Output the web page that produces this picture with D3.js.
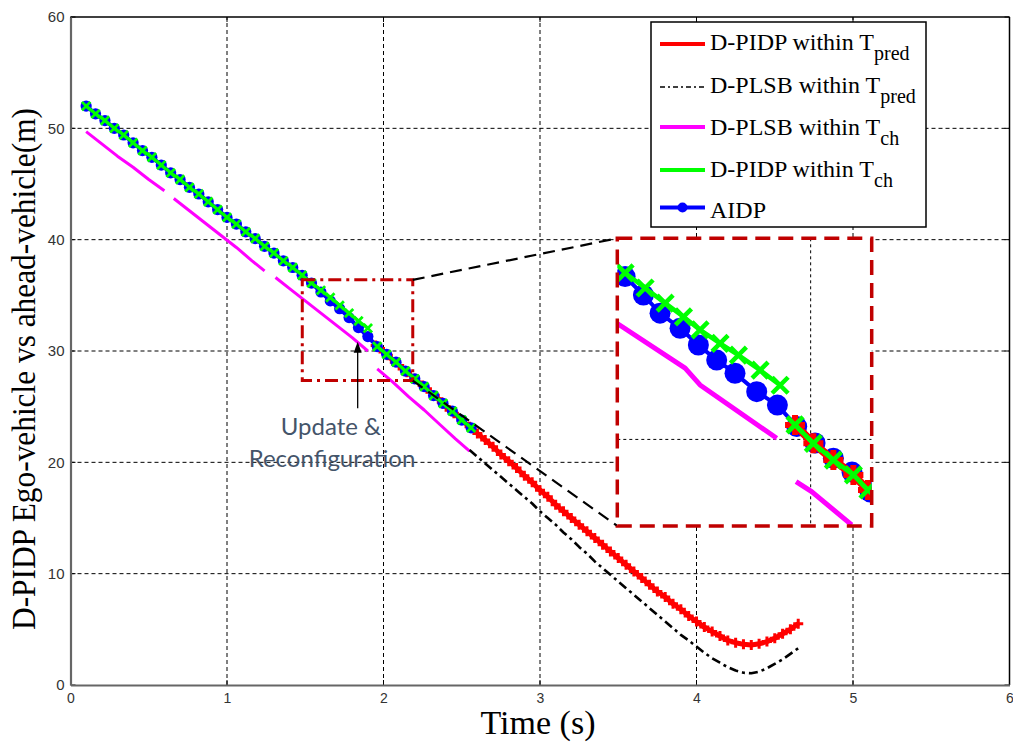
<!DOCTYPE html>
<html><head><meta charset="utf-8">
<script src="https://cdn.jsdelivr.net/npm/d3@7"></script>
<style>body{margin:0;background:#fff}svg{display:block}</style>
</head><body>
<svg id="c" width="1013" height="742"></svg>
<script>
// ---------- data ----------
const xTicks = [0,1,2,3,4,5,6];
const yTicks = [0,10,20,30,40,50,60];

const aidpTime = [0.10,0.16,0.22,0.28,0.34,0.40,0.46,0.52,0.58,0.64,0.70,0.76,0.82,0.88,0.94,1.00,1.06,1.12,1.18,1.24,1.30,1.36,1.42,1.48,1.54,1.60,1.66,1.72,1.78,1.84,1.90,1.96,2.02,2.08,2.14,2.20,2.26,2.32,2.38,2.44,2.50,2.56];
const aidpDist = [52.0,51.3,50.7,50.0,49.4,48.7,48.0,47.4,46.7,46.0,45.4,44.7,44.1,43.4,42.7,42.0,41.4,40.7,40.1,39.4,38.8,38.1,37.5,36.8,36.1,35.3,34.5,33.8,33.0,32.1,31.3,30.4,29.7,29.0,28.2,27.5,26.8,26.0,25.3,24.6,23.8,23.1];

const chPidpTime1 = [0.10,0.16,0.22,0.28,0.34,0.40,0.46,0.52,0.58,0.64,0.70,0.76,0.82,0.88,0.94,1.00,1.06,1.12,1.18,1.24,1.30,1.36,1.42,1.48,1.54,1.60,1.66,1.72,1.78,1.84,1.90];
const chPidpDist1 = [52.0,51.3,50.7,50.0,49.4,48.7,48.0,47.4,46.7,46.0,45.4,44.7,44.1,43.4,42.7,42.0,41.4,40.7,40.1,39.4,38.8,38.1,37.5,36.8,36.1,35.45,34.8,34.1,33.4,32.7,32.05];
const chPidpTime2 = [1.96,2.02,2.08,2.14,2.20,2.26,2.32,2.38,2.44,2.50,2.56];
const chPidpDist2 = [30.4,29.7,29.0,28.2,27.5,26.8,26.0,25.3,24.6,23.8,23.1];

const predPidpTime = [1.95,2.00,2.05,2.10,2.15,2.20,2.25,2.30,2.35,2.40,2.45,2.50,2.55,2.60,2.65,2.70,2.75,2.80,2.85,2.90,2.95,3.00,3.05,3.10,3.15,3.20,3.25,3.30,3.35,3.40,3.45,3.50,3.55,3.60,3.65,3.70,3.75,3.80,3.85,3.90,3.95,4.00,4.05,4.10,4.15,4.20,4.25,4.30,4.35,4.40,4.45,4.50,4.55,4.60,4.65];
const predPidpDist = [30.5,29.9,29.3,28.7,28.1,27.5,26.9,26.3,25.7,25.0,24.4,23.8,23.2,22.6,22.0,21.4,20.7,20.1,19.5,18.8,18.2,17.5,16.9,16.2,15.6,15.0,14.4,13.8,13.2,12.6,12.0,11.4,10.8,10.2,9.6,9.0,8.4,7.9,7.3,6.8,6.2,5.7,5.2,4.8,4.4,4.0,3.8,3.65,3.6,3.7,3.9,4.2,4.6,5.0,5.5];

const predPlsbTime = [2.55,2.60,2.65,2.70,2.75,2.80,2.85,2.90,2.95,3.00,3.05,3.10,3.15,3.20,3.25,3.30,3.35,3.40,3.45,3.50,3.55,3.60,3.65,3.70,3.75,3.80,3.85,3.90,3.95,4.00,4.05,4.10,4.15,4.20,4.25,4.30,4.35,4.40,4.45,4.50,4.55,4.60,4.65];
const predPlsbDist = [21.1,20.5,19.9,19.3,18.7,18.1,17.5,16.9,16.3,15.6,15.0,14.4,13.7,13.1,12.4,11.8,11.1,10.5,9.9,9.3,8.7,8.1,7.5,6.9,6.3,5.7,5.1,4.5,4.0,3.45,2.9,2.4,2.0,1.6,1.3,1.1,1.05,1.2,1.5,1.9,2.3,2.8,3.3];

const chPlsbSegTimes = [
  [0.10,0.20,0.30,0.40,0.50,0.60],
  [0.66,0.76,0.86,0.96,1.06,1.16,1.24],
  [1.31,1.40,1.50,1.60,1.70,1.80,1.90],
  [1.96,2.06,2.16,2.26,2.36,2.46,2.55]
];
const chPlsbSegDists = [
  [49.7,48.6,47.5,46.5,45.4,44.4],
  [43.7,42.6,41.5,40.4,39.3,38.1,37.2],
  [36.6,35.6,34.5,33.4,32.3,31.2,30.0],
  [28.4,27.2,25.9,24.7,23.4,22.1,21.0]
];

// zoomed inset (values read from the magnified view)
const insetXDomain = [1.43, 2.18];
const insetYDomain = [26.9, 37.2];
const insetGridX = [2];
const insetGridY = [30];
const insetAidpTime = [1.453,1.507,1.556,1.615,1.669,1.723,1.777,1.841,1.902,1.959,2.013,2.067,2.122,2.175];
const insetAidpDist = [35.83,35.17,34.52,33.98,33.38,32.84,32.37,31.71,31.23,30.46,29.87,29.33,28.83,28.12];
const insetCh1Time = [1.453,1.512,1.571,1.625,1.674,1.733,1.787,1.851,1.910];
const insetCh1Dist = [35.96,35.42,34.88,34.39,33.92,33.44,33.02,32.48,31.94];
const insetCh2Time = [1.954,2.008,2.067,2.126,2.169];
const insetCh2Dist = [30.52,29.86,29.26,28.73,28.19];
const insetPlsbSegTimes = [[1.430,1.630,1.674,1.900],[1.957,2.003,2.121]];
const insetPlsbSegDists = [[34.15,32.55,31.95,30.04],[28.49,28.13,26.94]];

// zoom box (data units)
const zoomBoxX = [1.481, 2.187];
const zoomBoxY = [27.34, 36.39];

const legendLabels = ["D-PIDP within T","D-PLSB within T","D-PLSB within T","D-PIDP within T","AIDP"];
const legendSubs = ["pred","pred","ch","ch",""];

// ---------- drawing ----------
const svg = d3.select("#c");
const SERIF = "'Liberation Serif','Times New Roman',serif";
const SANS = "'Liberation Sans',Arial,sans-serif";
const x = d3.scaleLinear().domain([0,6]).range([70.5,1009.5]);
const y = d3.scaleLinear().domain([0,60]).range([685,17]);
const zip = (a,b)=>a.map((v,i)=>[v,b[i]]);
const xPath = s => `M${-s},${-s}L${s},${s}M${-s},${s}L${s},${-s}`;
const plusPath = s => `M${-s},0L${s},0M0,${-s}L0,${s}`;

svg.append("rect").attr("width",1013).attr("height",742).attr("fill","#fff");

// grid
const grid = svg.append("g");
grid.selectAll("line.gx").data(xTicks.slice(1,-1)).join("line")
  .attr("x1",d=>x(d)).attr("x2",d=>x(d)).attr("y1",y(0)).attr("y2",y(60))
  .attr("stroke","#000").attr("stroke-width",1).attr("stroke-dasharray","4,3");
grid.selectAll("line.gy").data(yTicks.slice(1,-1)).join("line")
  .attr("y1",d=>y(d)).attr("y2",d=>y(d)).attr("x1",x(0)).attr("x2",x(6))
  .attr("stroke","#000").attr("stroke-width",1).attr("stroke-dasharray","4,3");

// frame
svg.append("line").attr("x1",x(0)).attr("x2",x(6)).attr("y1",y(60)).attr("y2",y(60)).attr("stroke","#000").attr("stroke-width",1.5);
svg.append("line").attr("x1",x(6)).attr("x2",x(6)).attr("y1",y(0)).attr("y2",y(60)).attr("stroke","#000").attr("stroke-width",1.5);
const tk = svg.append("g").attr("stroke","#000").attr("stroke-width",1);
xTicks.forEach(t=>{
  tk.append("line").attr("x1",x(t)).attr("x2",x(t)).attr("y1",y(60)).attr("y2",y(60)+5);
  tk.append("line").attr("x1",x(t)).attr("x2",x(t)).attr("y1",y(0)).attr("y2",y(0)-5);
});
yTicks.forEach(t=>{
  tk.append("line").attr("y1",y(t)).attr("y2",y(t)).attr("x1",x(6)).attr("x2",x(6)-5);
  tk.append("line").attr("y1",y(t)).attr("y2",y(t)).attr("x1",x(0)).attr("x2",x(0)+5);
});

const xAxis = svg.append("g").attr("transform",`translate(0,${y(0)})`)
  .call(d3.axisBottom(x).tickValues(xTicks).tickSize(0).tickPadding(8).tickFormat(d3.format("d")));
xAxis.select(".domain").attr("stroke","#666").attr("stroke-width",2.2);
xAxis.selectAll("text").attr("font-family",SANS).attr("font-size",14).attr("fill","#333");
const yAxis = svg.append("g").attr("transform",`translate(${x(0)},0)`)
  .call(d3.axisLeft(y).tickValues(yTicks).tickSize(0).tickPadding(6).tickFormat(d3.format("d")));
yAxis.select(".domain").attr("stroke","#666").attr("stroke-width",2.2);
yAxis.selectAll("text").attr("font-family",SANS).attr("font-size",15).attr("fill","#333");

svg.append("text").attr("x",538).attr("y",734).attr("text-anchor","middle")
  .attr("font-family",SERIF).attr("font-size",34).attr("fill","#000").text("Time (s)");
svg.append("text").attr("transform","translate(35,369) rotate(-90)").attr("text-anchor","middle")
  .attr("font-family",SERIF).attr("font-size",33).attr("fill","#000")
  .attr("textLength",522).attr("lengthAdjust","spacingAndGlyphs")
  .text("D-PIDP Ego-vehicle vs ahead-vehicle(m)");

// ---------- series (main) ----------
function drawSeries(g, xs, ys, pts, o){
  const line = d3.line().x(d=>xs(d[0])).y(d=>ys(d[1]));
  g.append("path").datum(pts).attr("d",line).attr("fill","none")
    .attr("stroke",o.color).attr("stroke-width",o.width)
    .attr("stroke-dasharray",o.dash||null).attr("stroke-linejoin","round").attr("stroke-linecap",o.cap||"butt");
  if(o.marker==="circle"){
    g.append("g").selectAll("circle").data(pts).join("circle")
      .attr("cx",d=>xs(d[0])).attr("cy",d=>ys(d[1])).attr("r",o.size).attr("fill",o.color);
  } else if(o.marker==="x" || o.marker==="plus"){
    const p = o.marker==="x" ? xPath(o.size) : plusPath(o.size);
    g.append("g").selectAll("path").data(pts).join("path")
      .attr("transform",d=>`translate(${xs(d[0])},${ys(d[1])})`).attr("d",p)
      .attr("stroke",o.color).attr("stroke-width",o.mw).attr("fill","none");
  }
}
const main = svg.append("g");
chPlsbSegTimes.forEach((t,i)=>drawSeries(main,x,y,zip(t,chPlsbSegDists[i]),{color:"#ff00ff",width:3}));
drawSeries(main,x,y,zip(predPlsbTime,predPlsbDist),{color:"#000",width:2.6,dash:"9,4,3,4"});
drawSeries(main,x,y,zip(predPidpTime,predPidpDist),{color:"#ff0000",width:5,marker:"plus",size:5,mw:3});
drawSeries(main,x,y,zip(aidpTime,aidpDist),{color:"#0000ff",width:4,marker:"circle",size:5.6});
drawSeries(main,x,y,zip(chPidpTime1,chPidpDist1),{color:"#00ff00",width:3.2,marker:"x",size:4.2,mw:2.8});
drawSeries(main,x,y,zip(chPidpTime2,chPidpDist2),{color:"#00ff00",width:3.2,marker:"x",size:4.2,mw:2.8});

// ---------- zoom box, arrow, note ----------
const bx0=x(zoomBoxX[0]), bx1=x(zoomBoxX[1]), by0=y(zoomBoxY[1]), by1=y(zoomBoxY[0]);
const ins = {x0:617.3, x1:871.7, y0:238.3, y1:526};
svg.append("rect").attr("x",bx0).attr("y",by0).attr("width",bx1-bx0).attr("height",by1-by0)
  .attr("fill","none").attr("stroke","#c00000").attr("stroke-width",3).attr("stroke-dasharray","13,5,3,5");
const conn = svg.append("g").attr("stroke","#000").attr("stroke-width",2.2).attr("stroke-dasharray","12,7");
conn.append("line").attr("x1",bx1).attr("y1",by0).attr("x2",ins.x0).attr("y2",ins.y0);
conn.append("line").attr("x1",bx1).attr("y1",by1).attr("x2",ins.x0).attr("y2",ins.y1);

const ax = x(1.835), aTop = y(30.84), aBot = y(24.85);
svg.append("line").attr("x1",ax).attr("x2",ax).attr("y1",aBot).attr("y2",aTop+9).attr("stroke","#000").attr("stroke-width",1.3);
svg.append("path").attr("d",`M${ax},${aTop}L${ax-4},${aTop+11}L${ax+4},${aTop+11}Z`).attr("fill","#000");
svg.append("text").attr("x",331).attr("y",435).attr("text-anchor","middle").attr("font-family","Lato,'Open Sans',sans-serif")
  .attr("font-size",24).attr("fill","#44546a").text("Update &");
svg.append("text").attr("x",332).attr("y",467).attr("text-anchor","middle").attr("font-family","Lato,'Open Sans',sans-serif")
  .attr("font-size",24).attr("fill","#44546a").text("Reconfiguration");

// ---------- inset ----------
const ix = d3.scaleLinear().domain(insetXDomain).range([ins.x0,ins.x1]);
const iy = d3.scaleLinear().domain(insetYDomain).range([ins.y1,ins.y0]);
svg.append("defs").append("clipPath").attr("id","ic").append("rect")
  .attr("x",ins.x0).attr("y",ins.y0).attr("width",ins.x1-ins.x0).attr("height",ins.y1-ins.y0);
svg.append("rect").attr("x",ins.x0).attr("y",ins.y0).attr("width",ins.x1-ins.x0).attr("height",ins.y1-ins.y0).attr("fill","#fff");
const ig = svg.append("g").attr("clip-path","url(#ic)");
insetGridX.forEach(v=>ig.append("line").attr("x1",ix(v)).attr("x2",ix(v)).attr("y1",ins.y0).attr("y2",ins.y1)
  .attr("stroke","#000").attr("stroke-width",1).attr("stroke-dasharray","3,3"));
insetGridY.forEach(v=>ig.append("line").attr("y1",iy(v)).attr("y2",iy(v)).attr("x1",ins.x0).attr("x2",ins.x1)
  .attr("stroke","#000").attr("stroke-width",1).attr("stroke-dasharray","3,3"));
insetPlsbSegTimes.forEach((t,i)=>drawSeries(ig,ix,iy,zip(t,insetPlsbSegDists[i]),{color:"#ff00ff",width:5}));
drawSeries(ig,ix,iy,zip(insetAidpTime,insetAidpDist),{color:"#0000ff",width:4,marker:"circle",size:10.5});
drawSeries(ig,ix,iy,zip(insetCh2Time,insetCh2Dist),{color:"#ff0000",width:8,marker:"plus",size:10,mw:6});
drawSeries(ig,ix,iy,zip(insetCh1Time,insetCh1Dist),{color:"#00ff00",width:4.5,marker:"x",size:8,mw:4.5});
drawSeries(ig,ix,iy,zip(insetCh2Time,insetCh2Dist),{color:"#00ff00",width:4.5,marker:"x",size:8,mw:4.5});
svg.append("rect").attr("x",ins.x0).attr("y",ins.y0).attr("width",ins.x1-ins.x0).attr("height",ins.y1-ins.y0)
  .attr("fill","none").attr("stroke","#c00000").attr("stroke-width",3.5).attr("stroke-dasharray","15,8");

// ---------- legend ----------
const lg = svg.append("g");
lg.append("rect").attr("x",651).attr("y",22).attr("width",275).attr("height",205)
  .attr("fill","#fff").attr("stroke","#000").attr("stroke-width",1.5);
const lineY = [44,87,127,170,207.5];
const textY = [50,92.5,134.5,177,218];
const legStyle = [
  {color:"#ff0000",width:4},
  {color:"#000",width:1.5,dash:"5,3,2,3"},
  {color:"#ff00ff",width:4},
  {color:"#00ff00",width:4},
  {color:"#0000ff",width:4,marker:true}
];
legendLabels.forEach((lab,i)=>{
  const s = legStyle[i];
  lg.append("line").attr("x1",660).attr("x2",705).attr("y1",lineY[i]).attr("y2",lineY[i])
    .attr("stroke",s.color).attr("stroke-width",s.width).attr("stroke-dasharray",s.dash||null);
  if(s.marker) lg.append("circle").attr("cx",682.5).attr("cy",lineY[i]).attr("r",5).attr("fill",s.color);
  const t = lg.append("text").attr("x",710).attr("y",textY[i]).attr("font-family",SERIF).attr("font-size",24).attr("fill","#000");
  t.append("tspan").text(lab);
  if(legendSubs[i]) t.append("tspan").attr("dy",10).attr("font-size",20).text(legendSubs[i]);
});
</script>
</body></html>
